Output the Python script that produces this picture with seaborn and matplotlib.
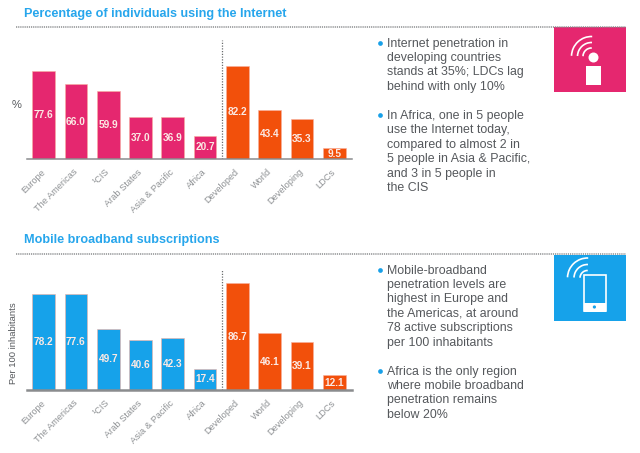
import matplotlib
matplotlib.use("Agg")
import matplotlib.pyplot as plt
from matplotlib.patches import Rectangle, Arc, Circle
from matplotlib.transforms import ScaledTranslation
import pandas as pd
import seaborn as sns

categories = ["Europe", "The Americas", "¹CIS", "Arab States", "Asia & Pacific",
              "Africa", "Developed", "World", "Developing", "LDCs"]
groups = ["region"] * 6 + ["level"] * 4
internet_values = [77.6, 66.0, 59.9, 37.0, 36.9, 20.7, 82.2, 43.4, 35.3, 9.5]
mobile_values = [78.2, 77.6, 49.7, 40.6, 42.3, 17.4, 86.7, 46.1, 39.1, 12.1]

PINK = "#E5276F"
BLUE = "#16A2EA"
ORANGE = "#F2500B"
TITLE_BLUE = "#27A6EC"
TXT = "#55585C"
TICK = "#8E9194"

sns.set_theme(style="white")
plt.rcParams["font.family"] = ["Liberation Sans", "DejaVu Sans"]

W, H = 640, 453
fig = plt.figure(figsize=(W / 100, H / 100), dpi=100)


def px_axes(x0, y0, x1, y1):
    return fig.add_axes([x0 / W, 1 - y1 / H, (x1 - x0) / W, (y1 - y0) / H])


def chart(values, region_colour, y_top, y_base, ymax, base_lw):
    ax = px_axes(27, y_top, 352, y_base)
    df = pd.DataFrame({"cat": categories, "val": values, "grp": groups})
    sns.barplot(data=df, x="cat", y="val", hue="grp", dodge=False, width=0.70,
                palette={"region": region_colour, "level": ORANGE},
                legend=False, ax=ax, saturation=1, edgecolor="#F7B0A0", linewidth=0.4)
    ax.set_xlim(-0.515, 9.55)
    ax.set_ylim(0, ymax)
    for c in ax.containers:
        labs = [f"{v:.1f}" if v == v and b.get_height() > 0 else ""
                for v, b in zip(c.datavalues, c)]
        ax.bar_label(c, labels=labs, label_type="center", color="#FBE9E4",
                     fontsize=7.3, fontweight="bold")
    for s in ("top", "right", "left"):
        ax.spines[s].set_visible(False)
    ax.spines["bottom"].set_color("#8A8C8E")
    ax.spines["bottom"].set_linewidth(base_lw)
    ax.set_yticks([])
    ax.set_xlabel("")
    ax.set_ylabel("")
    ax.tick_params(axis="x", length=0, pad=6)
    ax.set_xticks(range(len(categories)))
    ax.set_xticklabels(categories, rotation=45, ha="right", rotation_mode="anchor",
                       color=TICK, fontsize=6.7)
    shift = ScaledTranslation(-3 / 100, 0, fig.dpi_scale_trans)
    for t in ax.get_xticklabels():
        t.set_transform(t.get_transform() + shift)
    ax.axvline(5.535, color="#6A6C6E", lw=0.9, ls=(0, (1, 1.2)))
    return ax


chart(internet_values, PINK, 40, 159, 105.0, 1.1)
chart(mobile_values, BLUE, 270, 390, 97.5, 1.8)

ov = fig.add_axes([0, 0, 1, 1], zorder=5)
ov.set_xlim(0, W)
ov.set_ylim(H, 0)
ov.axis("off")
ov.patch.set_alpha(0)

# titles
ov.text(23.5, 14, "Percentage of individuals using the Internet", color=TITLE_BLUE,
        fontsize=9.05, fontweight="bold", va="center", ha="left")
ov.text(23.5, 240.5, "Mobile broadband subscriptions", color=TITLE_BLUE,
        fontsize=9.05, fontweight="bold", va="center", ha="left")

# dotted rules
for y in (26.5, 254):
    ov.plot([16, 626], [y, y], color="#8C8E90", lw=1.1, ls=(0, (0.8, 0.6)))

# axis captions
ov.text(17, 105, "%", color="#55585C", fontsize=8, ha="center", va="center")
ov.text(14, 343, "Per 100 inhabitants", color="#55585C", fontsize=6.8, rotation=90,
        ha="center", va="center")

# side text
LH = 14.45


def block(lines, x_b, x_t, y0):
    ov.plot([x_b], [y0 - 0.8], "o", ms=3.4, color="#18A0E8", mew=0)
    for i, l in enumerate(lines):
        ov.text(x_t, y0 + i * LH, l, color=TXT, fontsize=8.9, va="center", ha="left")


block(["Internet penetration in", "developing countries", "stands at 35%; LDCs lag",
       "behind with only 10%"], 379.5, 387, 43.5)
block(["In Africa, one in 5 people", "use the Internet today,", "compared to almost 2 in",
       "5 people in Asia & Pacific,", "and 3 in 5 people in", "the CIS"], 379.5, 387, 116)
block(["Mobile-broadband", "penetration levels are", "highest in Europe and",
       "the Americas, at around", "78 active subscriptions", "per 100 inhabitants"],
      379.5, 387, 270.5)
block(["Africa is the only region", "where mobile broadband", "penetration remains",
       "below 20%"], 379.5, 387, 371.5)

# icons
ov.add_patch(Rectangle((554, 27), 71.5, 65, fc=PINK, ec="none"))
for r in (8.5, 14, 20):
    ov.add_patch(Arc((591.5, 56.5), 2 * r, 2 * r, theta1=182, theta2=272, ec="white", lw=1.2))
ov.add_patch(Circle((593.5, 57.5), 5, fc="white", ec="none", zorder=3))
ov.add_patch(Rectangle((586.2, 65.7), 14.5, 19.3, fc="white", ec="none"))

ov.add_patch(Rectangle((554, 254.5), 71.5, 66, fc=BLUE, ec="none"))
for r in (7.5, 13.5, 20):
    ov.add_patch(Arc((587.5, 278), 2 * r, 2 * r, theta1=182, theta2=272, ec="white", lw=1.2))
ov.add_patch(Rectangle((583.5, 275), 22, 36, fc=BLUE, ec="white", lw=1.2, zorder=3))
ov.add_patch(Rectangle((583.5, 303), 22, 8.5, fc="white", ec="none", zorder=3))
ov.add_patch(Circle((594.4, 307), 1.6, fc=BLUE, ec="none", zorder=4))

fig.savefig("out.png", dpi=100)
